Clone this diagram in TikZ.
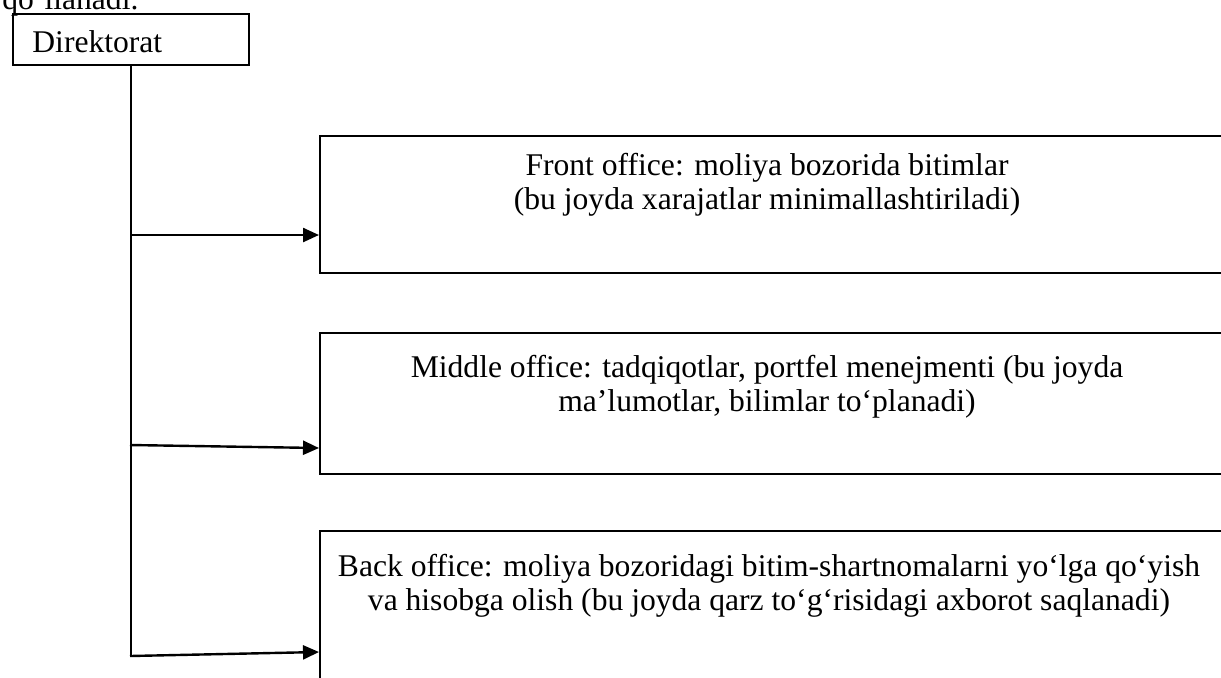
\documentclass[tikz,border=0pt]{standalone}
\usepackage{fontspec}
\setmainfont{Liberation Serif}
\usetikzlibrary{arrows.meta,positioning}

\begin{document}
\begin{tikzpicture}[x=0.5pt,y=-0.5pt,
  font=\fontsize{15.8}{17}\selectfont,
  box/.style={draw,line width=1pt,inner sep=0pt,anchor=north west},
  txt/.style={align=center,inner sep=0pt,anchor=base},
  arr/.style={line width=1.2pt,-{Triangle[length=8pt,width=7pt]}}]

\useasboundingbox (0,0) rectangle (1221,677);
\clip (0,0) rectangle (1221,677);

% ---- end of the text above ----
\node[anchor=base west,inner sep=0pt] (prev) at (2,9) {qo‘llanadi.};

% ---- directorate ----
\node[box,minimum width=118pt,minimum height=25.5pt] (dir) at (12,13) {};
\node[anchor=base west,inner sep=0pt] (dirtxt) at (32,52) {Direktorat};

% ---- offices ----
\node[box,minimum width=455.5pt,minimum height=68.5pt] (front) at (319,135) {};
\node[txt] (fronttxt) at (767,209)
  {Front office: moliya bozorida bitimlar\\(bu joyda xarajatlar minimallashtiriladi)};
\node[box,minimum width=455.5pt,minimum height=70.5pt] (middle) at (319,332) {};
\node[txt] (middletxt) at (767,411)
  {Middle office: tadqiqotlar, portfel menejmenti (bu joyda\\ma’lumotlar, bilimlar to‘planadi)};
\node[box,minimum width=455.5pt,minimum height=85pt] (back) at (319,530) {};
\node[txt] (backtxt) at (769,610)
  {Back office: moliya bozoridagi bitim-shartnomalarni yo‘lga qo‘yish\\va hisobga olish (bu joyda qarz to‘g‘risidagi axborot saqlanadi)};

% ---- connectors ----
\coordinate (j1) at (130,235);
\coordinate (j2) at (130,445);
\coordinate (j3) at (130,656);
\draw[line width=1.2pt] (dir.south) -- (dir.south |- j3);
\draw[arr] (j1) -- (j1 -| front.west);
\draw[arr] (j2) -- ([yshift=-1.5pt]j2 -| middle.west);
\draw[arr] (j3) -- ([yshift=2pt]j3 -| back.west);
\end{tikzpicture}
\end{document}
